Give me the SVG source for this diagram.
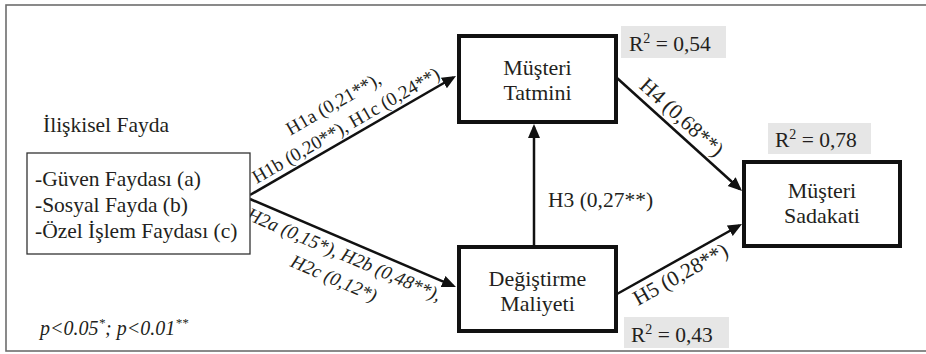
<svg xmlns="http://www.w3.org/2000/svg" width="926" height="354" viewBox="0 0 926 354">
  <defs>
    <marker id="arr" markerUnits="userSpaceOnUse" markerWidth="16" markerHeight="14" refX="11" refY="6" orient="auto">
      <path d="M0,0 L14,6 L0,12 z" fill="#111"/>
    </marker>
  </defs>
  <style>
    text { font-family: "Liberation Serif", "Times New Roman", serif; fill: #231f20; }
    .node { fill: #fff; stroke: #111; stroke-width: 4; }
    .nt { font-size: 22px; text-anchor: middle; }
    .bt { font-size: 21.5px; }
    .lbl { font-size: 19px; text-anchor: middle; }
    .lbl2 { font-size: 21.5px; text-anchor: middle; }
    .it { font-style: italic; }
    .r2box { fill: #e6e6e6; stroke: none; }
    .r2 { font-size: 21.5px; }
    .conn { stroke: #111; stroke-width: 2.5; fill: none; marker-end: url(#arr); }
  </style>

  <rect x="6" y="5" width="930" height="346" fill="#fff" stroke="#6d6d6d" stroke-width="1.6"/>

  <g id="connectors">
    <line class="conn" x1="250" y1="195" x2="453.4" y2="77.5"/>
    <line class="conn" x1="250" y1="199" x2="453.2" y2="285.8"/>
    <line class="conn" x1="534" y1="247" x2="534" y2="127"/>
    <line class="conn" x1="617" y1="78" x2="739.8" y2="189"/>
    <line class="conn" x1="617" y1="294" x2="739.4" y2="225.5"/>
  </g>

  <g id="labels">
    <g transform="translate(352,136) rotate(-30)">
      <text class="lbl" x="0" y="-31">H1a (0,21**),</text>
      <text class="lbl" x="0" y="-6">H1b (0,20**), H1c (0,24**)</text>
    </g>
    <g transform="translate(350,241) rotate(23.2)">
      <text class="lbl it" x="0" y="21">H2a (0,15*), H2b (0,48**),</text>
      <text class="lbl it" x="0" y="47">H2c (0,12*)</text>
    </g>
    <text class="bt" x="548" y="207">H3 (0,27**)</text>
    <g transform="translate(673,127) rotate(42.3)">
      <text class="lbl2" x="0" y="-6">H4 (0,68**)</text>
    </g>
    <g transform="translate(674,263) rotate(-29.2)">
      <text class="lbl2" x="0" y="20">H5 (0,28**)</text>
    </g>
  </g>

  <g id="node-iliskisel">
    <text class="bt" x="43" y="132">İlişkisel Fayda</text>
    <rect x="27" y="153" width="223" height="101" fill="#fff" stroke="#333" stroke-width="1.3"/>
    <text class="bt" x="35" y="186">-Güven Faydası (a)</text>
    <text class="bt" x="35" y="212">-Sosyal Fayda (b)</text>
    <text class="bt" x="35" y="238">-Özel İşlem Faydası (c)</text>
  </g>

  <g id="node-tatmin">
    <rect class="node" x="459" y="36" width="157" height="86"/>
    <text class="nt" x="537.5" y="75">Müşteri</text>
    <text class="nt" x="537.5" y="100">Tatmini</text>
  </g>

  <g id="node-maliyet">
    <rect class="node" x="459" y="247" width="157" height="84"/>
    <text class="nt" x="537.5" y="286">Değiştirme</text>
    <text class="nt" x="537.5" y="311">Maliyeti</text>
  </g>

  <g id="node-sadakat">
    <rect class="node" x="744" y="162" width="156" height="84"/>
    <text class="nt" x="822" y="198">Müşteri</text>
    <text class="nt" x="822" y="223">Sadakati</text>
  </g>

  <g id="r2-tatmin">
    <rect class="r2box" x="621" y="26" width="105" height="32"/>
    <text class="r2" x="629" y="51">R<tspan font-size="14" dy="-8">2</tspan><tspan dy="8"> = 0,54</tspan></text>
  </g>
  <g id="r2-sadakat">
    <rect class="r2box" x="768" y="123" width="103" height="31"/>
    <text class="r2" x="775" y="147">R<tspan font-size="14" dy="-8">2</tspan><tspan dy="8"> = 0,78</tspan></text>
  </g>
  <g id="r2-maliyet">
    <rect class="r2box" x="624" y="317" width="105" height="31"/>
    <text class="r2" x="631" y="342">R<tspan font-size="14" dy="-8">2</tspan><tspan dy="8"> = 0,43</tspan></text>
  </g>

  <g id="note">
    <text class="it" x="40" y="335" font-size="20">p&lt;0.05<tspan font-size="13" dy="-8">*</tspan><tspan dy="8">; p&lt;0.01</tspan><tspan font-size="13" dy="-8">**</tspan></text>
  </g>
</svg>
